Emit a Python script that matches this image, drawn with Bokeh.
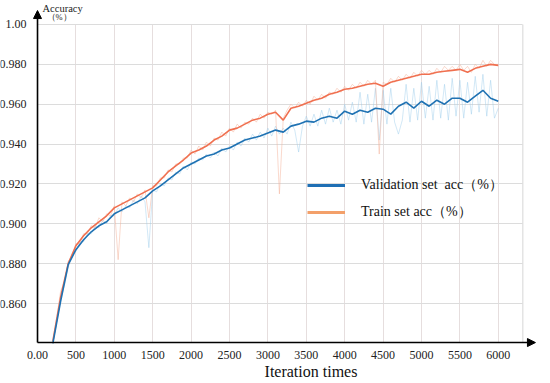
from bokeh.plotting import figure
from bokeh.models import (Range1d, FixedTicker, Arrow, NormalHead, Label, Legend, LegendItem,
                          CDSView, IndexFilter, ColumnDataSource)
from bokeh.embed import file_html
from bokeh.resources import INLINE

# ---- data ----
smooth_iters = list(range(200, 6001, 100))
raw_iters = list(range(200, 6001, 50))

val_smooth = [
    0.840, 0.861, 0.8795, 0.887, 0.892, 0.896, 0.899, 0.901, 0.905, 0.907,
    0.909, 0.911, 0.913, 0.9165, 0.919, 0.922, 0.925, 0.928, 0.930, 0.932,
    0.934, 0.935, 0.937, 0.938, 0.940, 0.942, 0.943, 0.944, 0.9455, 0.947,
    0.946, 0.949, 0.950, 0.9515, 0.951, 0.953, 0.954, 0.953, 0.9565, 0.955,
    0.957, 0.956, 0.958, 0.9575, 0.955, 0.959, 0.961, 0.958, 0.9615, 0.959,
    0.962, 0.960, 0.963, 0.963, 0.961, 0.964, 0.967, 0.963, 0.9615,
]
train_smooth = [
    0.841, 0.863, 0.880, 0.889, 0.894, 0.898, 0.901, 0.904, 0.908, 0.910,
    0.912, 0.914, 0.916, 0.918, 0.922, 0.926, 0.929, 0.932, 0.9355, 0.937,
    0.939, 0.942, 0.944, 0.947, 0.948, 0.950, 0.952, 0.953, 0.955, 0.956,
    0.952, 0.958, 0.959, 0.9605, 0.962, 0.963, 0.965, 0.966, 0.9675, 0.968,
    0.969, 0.970, 0.9705, 0.969, 0.971, 0.972, 0.973, 0.974, 0.975, 0.975,
    0.976, 0.9765, 0.977, 0.9775, 0.976, 0.978, 0.979, 0.980, 0.9795,
]
val_raw = [
    0.841, 0.851, 0.862, 0.869, 0.878, 0.885, 0.886, 0.891, 0.891, 0.895,
    0.895, 0.899, 0.898, 0.902, 0.900, 0.904, 0.904, 0.908, 0.906, 0.909,
    0.908, 0.912, 0.910, 0.914, 0.911, 0.888, 0.917, 0.916, 0.920, 0.919,
    0.923, 0.922, 0.926, 0.925, 0.929, 0.927, 0.931, 0.930, 0.933, 0.932,
    0.935, 0.933, 0.936, 0.934, 0.938, 0.936, 0.939, 0.937, 0.941, 0.939,
    0.943, 0.941, 0.945, 0.942, 0.946, 0.943, 0.948, 0.944, 0.949, 0.945,
    0.948, 0.945, 0.951, 0.947, 0.936, 0.949, 0.954, 0.949, 0.955, 0.949,
    0.957, 0.950, 0.958, 0.951, 0.957, 0.950, 0.960, 0.952, 0.961, 0.951,
    0.966, 0.950, 0.965, 0.951, 0.968, 0.942, 0.967, 0.950, 0.968, 0.951,
    0.945, 0.952, 0.970, 0.951, 0.968, 0.952, 0.971, 0.953, 0.969, 0.952,
    0.972, 0.953, 0.970, 0.952, 0.973, 0.954, 0.972, 0.953, 0.971, 0.955,
    0.974, 0.956, 0.975, 0.954, 0.972, 0.953, 0.958,
]
train_raw = [
    0.842, 0.853, 0.866, 0.871, 0.881, 0.884, 0.890, 0.890, 0.895, 0.895,
    0.899, 0.898, 0.903, 0.901, 0.905, 0.904, 0.909, 0.882, 0.911, 0.909,
    0.913, 0.911, 0.915, 0.913, 0.917, 0.903, 0.919, 0.919, 0.923, 0.923,
    0.927, 0.926, 0.930, 0.930, 0.933, 0.933, 0.937, 0.935, 0.939, 0.937,
    0.941, 0.939, 0.943, 0.942, 0.946, 0.944, 0.948, 0.946, 0.950, 0.948,
    0.951, 0.950, 0.953, 0.951, 0.955, 0.953, 0.956, 0.955, 0.957, 0.915,
    0.953, 0.957, 0.960, 0.958, 0.961, 0.959, 0.962, 0.960, 0.964, 0.962,
    0.965, 0.963, 0.966, 0.965, 0.968, 0.966, 0.969, 0.967, 0.970, 0.968,
    0.971, 0.969, 0.972, 0.970, 0.972, 0.935, 0.971, 0.970, 0.973, 0.971,
    0.974, 0.972, 0.975, 0.973, 0.976, 0.974, 0.977, 0.975, 0.977, 0.975,
    0.978, 0.976, 0.979, 0.977, 0.979, 0.977, 0.980, 0.977, 0.979, 0.976,
    0.980, 0.978, 0.982, 0.979, 0.982, 0.980, 0.980,
]

x_ticks = [0, 500, 1000, 1500, 2000, 2500, 3000, 3500, 4000, 4500, 5000, 5500, 6000]
x_tick_labels = ["0.00", "500", "1000", "1500", "2000", "2500", "3000", "3500",
                 "4000", "4500", "5000", "5500", "6000"]
y_ticks = [0.86, 0.88, 0.90, 0.92, 0.94, 0.96, 0.98, 1.00]
y_tick_labels = ["0.860", "0.880", "0.900", "0.920", "0.940", "0.960", "0.980", "1.00"]

series_names = ["Validation set  acc（%）", "Train set acc（%）"]
x_title = "Iteration times"
y_title = ["Accuracy", "（%）"]

# ---- layout constants ----
W, H = 550, 383
X0, X1 = -482, 6680       # visible x range (room left of the y axis for its labels)
Y0, Y1 = 0.81986, 1.01204 # visible y range (room below the x axis for its labels)
AXIS_X, AXIS_Y = 0, 0.8404
X_ARROW_END, Y_ARROW_END = 6484, 1.0070
X_BORDER = 6320
FONT = "Liberation Serif"

p = figure(width=W, height=H, x_range=Range1d(X0, X1), y_range=Range1d(Y0, Y1),
           output_backend="svg", toolbar_location=None,
           min_border_left=0, min_border_right=0, min_border_top=0, min_border_bottom=0)
p.outline_line_color = None
p.background_fill_color = "white"

# axes (placed inside the frame at the crossing point)
for ax, ticks, labels in ((p.xaxis[0], x_ticks, x_tick_labels), (p.yaxis[0], y_ticks, y_tick_labels)):
    ax.ticker = FixedTicker(ticks=ticks)
    ax.major_label_overrides = dict(zip(ticks, labels))
    ax.axis_line_color = None
    ax.major_tick_line_color = None
    ax.minor_tick_line_color = None
    ax.major_label_text_font = FONT
    ax.major_label_text_font_size = "12px"
    ax.major_label_text_color = "#222222"
p.xaxis[0].fixed_location = AXIS_Y
p.yaxis[0].fixed_location = AXIS_X
p.xaxis[0].major_label_standoff = 2
p.yaxis[0].major_label_standoff = 5

# grid
p.xgrid.ticker = FixedTicker(ticks=x_ticks)
p.ygrid.ticker = FixedTicker(ticks=y_ticks)
p.xgrid.grid_line_color = "#e6dede"
p.ygrid.grid_line_color = "#dcdcdc"
p.xgrid.cross_bounds = (AXIS_Y, 1.0)
p.ygrid.cross_bounds = (AXIS_X, X_BORDER)
p.segment(x0=[X_BORDER], y0=[AXIS_Y], x1=[X_BORDER], y1=[1.0], line_color="#d6d6d6", line_width=1)

# series
p.line(raw_iters, val_raw, line_color="#9ccbec", line_alpha=0.45, line_width=1)
p.line(raw_iters, train_raw, line_color="#f6b39c", line_alpha=0.5, line_width=1)
r_train = p.line(smooth_iters, train_smooth, line_color="#f07050", line_width=1.6)
r_val = p.line(smooth_iters, val_smooth, line_color="#1f72b3", line_width=1.6)

# legend-only renderers: only one point shown, so no visible line in the plot
src_val = ColumnDataSource(dict(x=smooth_iters, y=val_smooth))
src_train = ColumnDataSource(dict(x=smooth_iters, y=train_smooth))
lg_val = p.line("x", "y", source=src_val, view=CDSView(filter=IndexFilter(indices=[0])),
                line_color="#1f6fb4", line_width=3)
lg_train = p.line("x", "y", source=src_train, view=CDSView(filter=IndexFilter(indices=[0])),
                  line_color="#f3a06a", line_width=3)

# axis arrows
p.add_layout(Arrow(end=NormalHead(size=8, fill_color="black", line_color="black"),
                   x_start=AXIS_X, y_start=AXIS_Y, x_end=AXIS_X, y_end=Y_ARROW_END,
                   line_width=1.6, line_color="black"))
p.add_layout(Arrow(end=NormalHead(size=8, fill_color="black", line_color="black"),
                   x_start=AXIS_X, y_start=AXIS_Y, x_end=X_ARROW_END, y_end=AXIS_Y,
                   line_width=1.6, line_color="black"))

# axis titles
p.add_layout(Label(x=AXIS_X, y=1.0, x_offset=5, y_offset=21, text=y_title[0],
                   text_font=FONT, text_font_size="10.5px", text_baseline="top",
                   text_color="#222222"))
p.add_layout(Label(x=AXIS_X, y=1.0, x_offset=9, y_offset=12, text=y_title[1],
                   text_font=FONT, text_font_size="8.5px", text_baseline="top",
                   text_color="#222222"))
p.add_layout(Label(x=3561, y=AXIS_Y, y_offset=-29, text=x_title,
                   text_font=FONT, text_font_size="16px", text_baseline="middle",
                   text_align="center", text_color="#111111"))

# legend
legend = Legend(items=[LegendItem(label=series_names[0], renderers=[lg_val]),
                       LegendItem(label=series_names[1], renderers=[lg_train])],
                location=(307, 161), padding=0, margin=0, spacing=7,
                glyph_width=38, glyph_height=20, label_height=20, label_standoff=16,
                label_text_font=FONT, label_text_font_size="14px",
                label_text_color="#111111",
                border_line_color=None, background_fill_alpha=0)
p.add_layout(legend)

open("out.html", "w").write(file_html(p, INLINE))
